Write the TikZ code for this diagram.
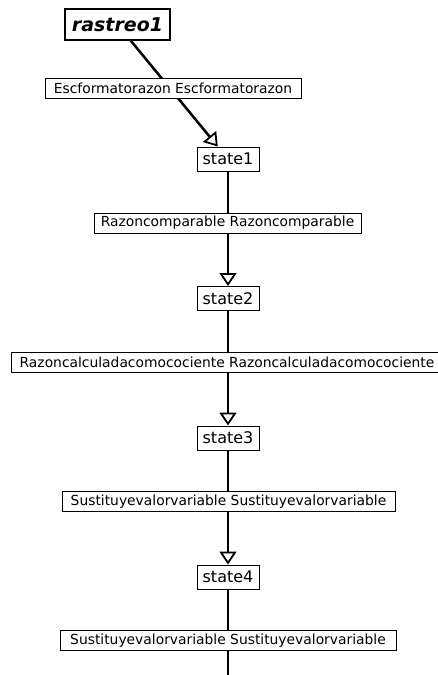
\documentclass[tikz,border=0pt]{standalone}
\usepackage{fontspec}
\setmainfont{DejaVu Sans}
\usetikzlibrary{arrows.meta}
\begin{document}
\begin{tikzpicture}[x=1pt,y=-1pt,
 statebox/.style={draw, line width=1pt, fill=white, minimum width=62pt, minimum height=24pt, inner sep=0pt, font=\fontsize{16}{18}\selectfont},
 lbl/.style={draw, line width=0.8pt, fill=white, minimum height=20pt, inner sep=0pt, font=\fontsize{13.85}{16}\selectfont},
 conn/.style={line width=2.5pt, -{Triangle[open, length=13pt, width=17pt, line width=1.8pt]}},
 plainconn/.style={line width=2.5pt},
]
\useasboundingbox (0,0) rectangle (437,675);
\fill[white] (0,0) rectangle (437,675);
\node[draw, line width=1.2pt, fill=white, minimum width=105pt, minimum height=31pt, inner sep=0pt, font=\fontsize{19}{22}\selectfont\bfseries\itshape] (r) at (117.5,24.5) {rastreo1};
\node[statebox] (s1) at (228,159) {state1};
\node[statebox] (s2) at (228,298.5) {state2};
\node[statebox] (s3) at (228,438) {state3};
\node[statebox] (s4) at (228,577) {state4};
\coordinate (end) at (228,700);
\draw[conn] (r) -- (s1);
\draw[conn] (s1) -- (s2);
\draw[conn] (s2) -- (s3);
\draw[conn] (s3) -- (s4);
\draw[plainconn] (s4) -- (end);
\node[lbl, minimum width=256pt] (l1) at (173,88) {Escformatorazon Escformatorazon};
\node[lbl, minimum width=267pt] (l2) at (227.5,223) {Razoncomparable Razoncomparable};
\node[lbl, minimum width=432pt] (l3) at (227,362) {Razoncalculadacomocociente Razoncalculadacomocociente};
\node[lbl, minimum width=333pt] (l4) at (228.5,501.5) {Sustituyevalorvariable Sustituyevalorvariable};
\node[lbl, minimum width=336pt] (l5) at (228,640.5) {Sustituyevalorvariable Sustituyevalorvariable};
\end{tikzpicture}
\end{document}
